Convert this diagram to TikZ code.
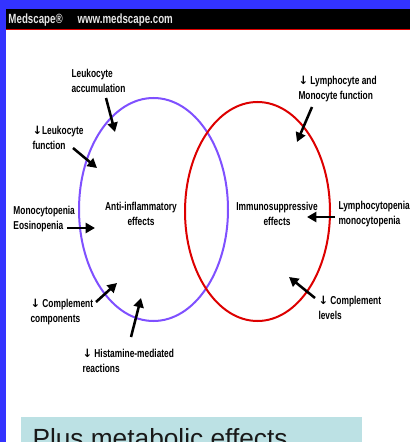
\documentclass[tikz,border=0pt]{standalone}
\usepackage{fontspec}
\usetikzlibrary{arrows.meta,calc}
\newfontfamily\narrowsf[FakeStretch=0.73]{Liberation Sans}
\newfontfamily\plainsf{Liberation Sans}
\newfontfamily\arrowsf{DejaVu Sans}
\newcommand{\dn}{{\arrowsf\bfseries ↓}}
\definecolor{frameblue}{RGB}{51,51,255}
\definecolor{ringviolet}{RGB}{127,80,255}
\definecolor{ringred}{RGB}{221,0,0}
\definecolor{notecyan}{RGB}{188,225,228}
\definecolor{headgray}{RGB}{230,230,230}
\tikzset{every picture/.style={line width=0.75pt}}
\tikzset{
  lbl/.style={anchor=north west,inner sep=0pt,align=left,font=\narrowsf\bfseries\fontsize{8.6}{11}\selectfont},
  effect/.style={inner sep=0pt,align=center,font=\narrowsf\bfseries\fontsize{8.6}{11}\selectfont},
  arr/.style={line width=1.9pt,-{Triangle[length=7pt,width=7.5pt]}},
  ring/.style={line width=1.5pt}
}

\begin{document}
\begin{tikzpicture}[x=0.75pt,y=0.75pt,yscale=-1,xscale=1]
\useasboundingbox (0,0) rectangle (410,442);
\clip (0,0) rectangle (410,442);

% frame and header
\fill[frameblue] (0,0) rectangle (410,442);
\fill[white] (6,9) rectangle (410,442);
\fill[black] (6,9) rectangle (410,29);
\draw[ringred,line width=1pt] (6,29.5) -- (410,29.5);
\node[anchor=north west,inner sep=0pt,text=headgray,font=\narrowsf\bfseries\fontsize{10}{12}\selectfont] (brand) at (8,13) {Medscape®};
\node[anchor=north west,inner sep=0pt,text=headgray,font=\narrowsf\bfseries\fontsize{10}{12}\selectfont] (site) at (77,13) {www.medscape.com};

% rings
\draw[ring,ringviolet] (153.5,209.5) ellipse [x radius=74.5,y radius=111.5];
\draw[ring,ringred] (257.5,211.5) ellipse [x radius=72.5,y radius=109.5];

% effect labels
\node[effect] (anti) at (141,214) {Anti-inflammatory\\effects};
\node[effect] (immu) at (277,214) {Immunosuppressive\\effects};

% cause labels
\node[lbl] (lacc) at (71,69) {Leukocyte\\accumulation};
\node[lbl] (lfun) at (32,126) {\dn Leukocyte\\function};
\node[lbl] (mono) at (13,206) {Monocytopenia\\Eosinopenia};
\node[lbl] (lymf) at (298,76) {\dn\ Lymphocyte and\\Monocyte function};
\node[lbl] (lymp) at (338,201) {Lymphocytopenia\\monocytopenia};
\node[lbl] (ccomp) at (30,299) {\dn\ Complement\\components};
\node[lbl] (hist) at (82,349) {\dn\ Histamine-mediated\\reactions};
\node[lbl] (clev) at (318,296) {\dn\ Complement\\levels};

% arrow heads
\coordinate (lacc-h) at (115,132);
\coordinate (lfun-h) at (97,168);
\coordinate (mono-h) at (95,228);
\coordinate (lymf-h) at (297,142);
\coordinate (lymp-h) at (307,217);
\coordinate (ccomp-h) at (117,283);
\coordinate (hist-h) at (141,298);
\coordinate (clev-h) at (289,277);

\draw[arr] ($(lacc.north west)+(35,29)$) -- (lacc-h);
\draw[arr] ($(lfun.north west)+(41,22)$) -- (lfun-h);
\draw[arr] ($(mono.north west)+(54,22)$) -- (mono-h);
\draw[arr] ($(lymf.north west)+(14,31)$) -- (lymf-h);
\draw[arr] ($(lymp.north west)+(-3,16)$) -- (lymp-h);
\draw[arr] ($(ccomp.north west)+(66,3)$) -- (ccomp-h);
\draw[arr] ($(hist.north west)+(49,-12)$) -- (hist-h);
\draw[arr] ($(clev.north west)+(-3,2)$) -- (clev-h);

% note box
\fill[notecyan] (21,417) rectangle (362,450);
\node[anchor=north west,inner sep=0pt,text=black!90,font=\plainsf\fontsize{19.7}{22}\selectfont] (note) at (32,428) {Plus metabolic effects};

\end{tikzpicture}
\end{document}
